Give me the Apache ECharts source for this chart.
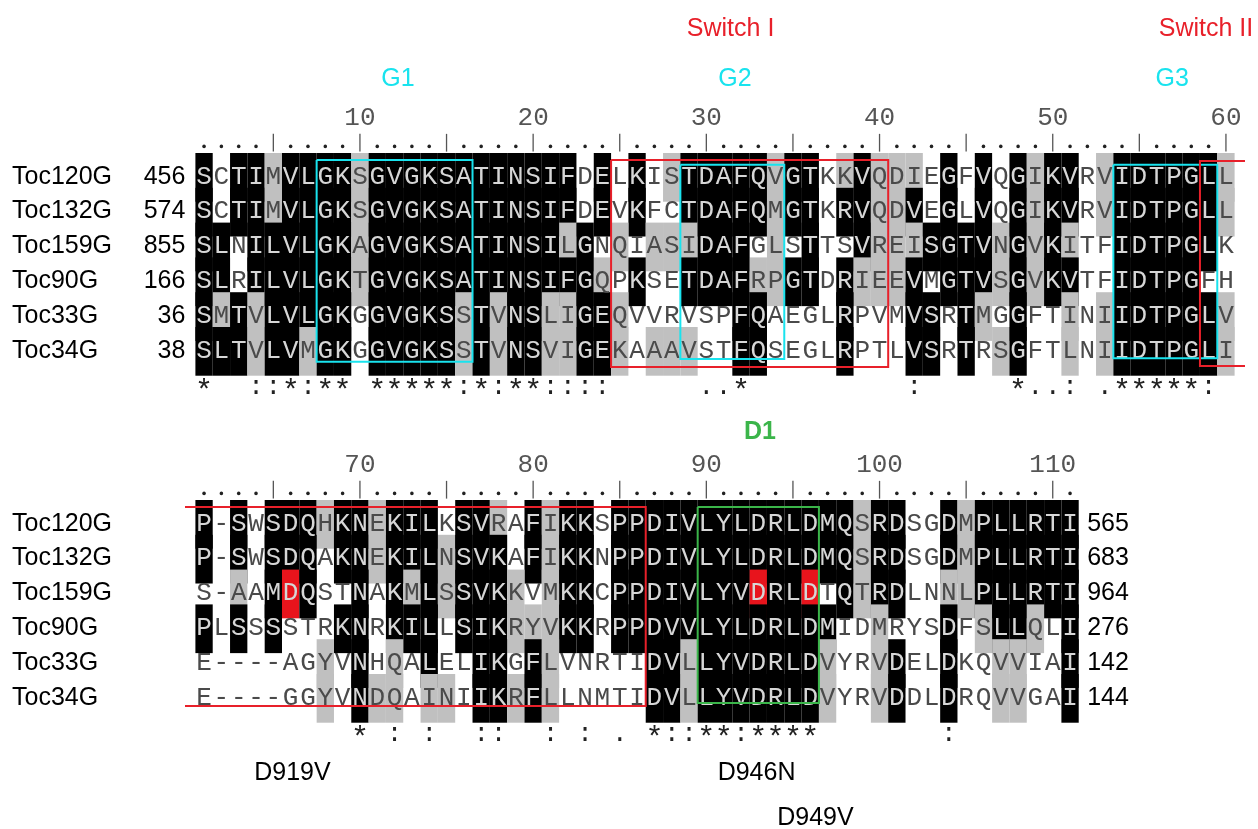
<!DOCTYPE html>
<html>
<head>
<meta charset="utf-8">
<script src="https://cdn.jsdelivr.net/npm/echarts@6/dist/echarts.min.js"></script>
<style>
html, body { margin: 0; background: #fff; }
#main { width: 1258px; height: 829px; }
</style>
</head>
<body>
<div id="main"></div>
<script>
// sequence names and residue numbers
var names = ['Toc120G', 'Toc132G', 'Toc159G', 'Toc90G', 'Toc33G', 'Toc34G'];
var startNums = [456, 574, 855, 166, 36, 38];
var endNums = [565, 683, 964, 276, 142, 144];

// alignment, columns 1-60
var seqTop = [
  'SCTIMVLGKSGVGKSATINSIFDELKISTDAFQVGTKKVQDIEGFVQGIKVRVIDTPGLL',
  'SCTIMVLGKSGVGKSATINSIFDEVKFCTDAFQMGTKRVQDVEGLVQGIKVRVIDTPGLL',
  'SLNILVLGKAGVGKSATINSILGNQIASIDAFGLSTTSVREISGTVNGVKITFIDTPGLK',
  'SLRILVLGKTGVGKSATINSIFGQPKSETDAFRPGTDRIEEVMGTVSGVKVTFIDTPGFH',
  'SMTVLVLGKGGVGKSSTVNSLIGEQVVRVSPFQAEGLRPVMVSRTMGGFTINIIDTPGLV',
  'SLTVLVMGKGGVGKSSTVNSVIGEKAAAVSTFQSEGLRPTLVSRTRSGFTLNIIDTPGLI'
];
// alignment, columns 61-111
var seqBottom = [
  'P-SWSDQHKNEKILKSVRAFIKKSPPDIVLYLDRLDMQSRDSGDMPLLRTI',
  'P-SWSDQAKNEKILNSVKAFIKKNPPDIVLYLDRLDMQSRDSGDMPLLRTI',
  'S-AAMDQSTNAKMLSSVKKVMKKCPPDIVLYVDRLDTQTRDLNNLPLLRTI',
  'PLSSSSTRKNRKILLSIKRYVKKRPPDVVLYLDRLDMIDMRYSDFSLLQLI',
  'E----AGYVNHQALELIKGFLVNRTIDVLLYVDRLDVYRVDELDKQVVIAI',
  'E----GGYVNDQAINIIKRFLLNMTIDVLLYVDRLDVYRVDDLDRQVVGAI'
];

// shading: W none, G similar, B identical, R mutated site
var shadeTop = [
  'BWBBGBBBBG' + 'BBBBBBBBBB' + 'BBWBWBWGBB' + 'BBBGBBWGBG' + 'GGWBWBWBGB' + 'BWGBBBBBBG',
  'BWBBGBBBBG' + 'BBBBBBBBBB' + 'BBWBWBWWBB' + 'BBBGBBWBBG' + 'GBWBWBWBGB' + 'BWGBBBBBBG',
  'BBWBBBBBBG' + 'BBBBBBBBBB' + 'BGBWGWGGGB' + 'BBWGWBWWBG' + 'GGBBBBGBGB' + 'GWWBBBBBBW',
  'BBWBBBBBBG' + 'BBBBBBBBBB' + 'BBBGWBWWBB' + 'BBGGBBWBGG' + 'GBWBBBGBGB' + 'BWWBBBBBWW',
  'BGBGBBBBBW' + 'BBBBBGBGBB' + 'GGBBGWWWWW' + 'WBBWWWWBWW' + 'WBBWBGWBWW' + 'GWGBBBBBBG',
  'BBBGBBGBBW' + 'BBBBBGBGBB' + 'GGBBGWGGGW' + 'WBBWWWWBWW' + 'WBBWBWGBWW' + 'GWGBBBBBBG'
];
var shadeBottom = [
  'BWBWBBBGBB' + 'GBBBWBBGWB' + 'GBBWBBBBBB' + 'BBBBBBBBGB' + 'BWWBGBBBBB' + 'B',
  'BWBWBBBWBB' + 'GBBBGBBBWB' + 'GBBWBBBBBB' + 'BBBBBBBBGB' + 'BWWBGBBBBB' + 'B',
  'WWGWBRBWWB' + 'WBGBGBBBGW' + 'GBBWBBBBBB' + 'BBRBBRWBGB' + 'BWWGGBBBBB' + 'B',
  'BWBWBWWWBB' + 'WBBBWBBBGG' + 'GBBWBBBBBB' + 'BBBBBBBWWG' + 'WWWBWGBBGW' + 'B',
  'WWWWWWWGWB' + 'WGWBWWBBWB' + 'GWWWWWBBGB' + 'BBBBBBGWWG' + 'BWWBWWGGWW' + 'B',
  'WWWWWWWGWB' + 'GGWGGWBBGB' + 'GWWWWWBBGB' + 'BBBBBBGWWG' + 'BWWBWWGGWW' + 'B'
];

// conservation line under each block
var consTop = '*  ::*:** ' + '*****:*:**' + '::::     .' + '.*        ' + ' :     *..' + ': .*****: ';
var consBottom = '         *' + ' : :  ::  ' + ': : . *::*' + '*:****    ' + '   :      ' + ' ';

var tickTop = [10, 20, 30, 40, 50, 60];
var tickBottom = [70, 80, 90, 100, 110];

var RED = '#e8202a', CYAN = '#19e3ee', GREEN = '#3bb54a';

// motif boxes, in column units
var boxes = [
  {grid: 0, from: 8, to: 16, top: 0.2, bottom: 6.0, color: CYAN, open: ''},
  {grid: 0, from: 25, to: 40, top: 0.2, bottom: 6.15, color: RED, open: ''},
  {grid: 0, from: 29, to: 34, top: 0.34, bottom: 5.92, color: CYAN, open: ''},
  {grid: 0, from: 54, to: 59, top: 0.34, bottom: 5.9, color: CYAN, open: ''},
  {grid: 0, from: 59, to: 60.6, top: 0.23, bottom: 6.12, color: RED, open: 'right'},
  {grid: 1, from: 60.4, to: 86, top: 0.2, bottom: 5.92, color: RED, open: 'left'},
  {grid: 1, from: 90, to: 96, top: 0.2, bottom: 5.83, color: GREEN, open: ''}
];

var headers = [
  {grid: 0, text: 'Switch I', col: 31.4, row: -3.56, color: RED, bold: false},
  {grid: 0, text: 'Switch II', col: 58.85, row: -3.56, color: RED, bold: false},
  {grid: 0, text: 'G1', col: 12.2, row: -2.13, color: CYAN, bold: false},
  {grid: 0, text: 'G2', col: 31.65, row: -2.13, color: CYAN, bold: false},
  {grid: 0, text: 'G3', col: 56.9, row: -2.13, color: CYAN, bold: false},
  {grid: 1, text: 'D1', col: 93.1, row: -1.95, color: GREEN, bold: true},
  {grid: 1, text: 'D919V', col: 66.1, row: 7.84, color: '#000', bold: false},
  {grid: 1, text: 'D946N', col: 92.9, row: 7.84, color: '#000', bold: false},
  {grid: 1, text: 'D949V', col: 96.3, row: 9.14, color: '#000', bold: false}
];

var COL_W = 17.32, ROW_H = 34.8, Y_SPAN = 6.4, BOX_H = 1.4, TEXT_OFF = 0.68;
var SEQ_FONT = '26px "Liberation Mono", monospace';
var LAB_FONT = '25px "Liberation Sans", Arial, sans-serif';
var shadeFill = [null, '#c0c0c0', '#000000', '#e8141c'];

var blocks = [
  {first: 1, seqs: seqTop, shades: shadeTop, cons: consTop, ticks: tickTop, ends: false},
  {first: 61, seqs: seqBottom, shades: shadeBottom, cons: consBottom, ticks: tickBottom, ends: true}
];

var series = [];

blocks.forEach(function (blk, g) {
  var cells = [], letters = [], ruler = [], cons = [], rows = [];
  blk.seqs.forEach(function (s, r) {
    rows.push([blk.first, r]);
    for (var i = 0; i < s.length; i++) {
      var k = 'WGBR'.indexOf(blk.shades[r][i]);
      if (k > 0) cells.push([blk.first + i, r, k]);
      letters.push([blk.first + i, r, k]);
    }
  });
  var n = blk.seqs[0].length;
  for (var i = 0; i < n; i++) {
    ruler.push([blk.first + i, 0]);
    if (blk.cons[i] && blk.cons[i] !== ' ') cons.push([blk.first + i, 0]);
  }

  series.push({
    type: 'custom', xAxisIndex: g, yAxisIndex: g, z: 1, data: cells,
    renderItem: function (params, api) {
      var c = api.value(0), r = api.value(1), k = api.value(2);
      var a = api.coord([c - 0.5, r]), b = api.coord([c + 0.5, r + BOX_H]);
      return {type: 'rect', z2: r,
        shape: {x: a[0], y: a[1], width: b[0] - a[0], height: b[1] - a[1]},
        style: {fill: shadeFill[k]}};
    }
  });

  series.push({
    type: 'custom', xAxisIndex: g, yAxisIndex: g, z: 3, data: letters,
    renderItem: function (params, api) {
      var c = api.value(0), r = api.value(1), k = api.value(2);
      var p = api.coord([c, r + TEXT_OFF]);
      return {type: 'text', x: p[0], y: p[1],
        style: {text: blk.seqs[r][c - blk.first], font: SEQ_FONT,
          fill: k >= 2 ? '#d6d6d6' : '#4a4a4a', align: 'center', verticalAlign: 'middle'}};
    }
  });

  // ruler: dot per column, bar every 5, number every 10
  series.push({
    type: 'custom', xAxisIndex: g, yAxisIndex: g, z: 3, data: ruler,
    renderItem: function (params, api) {
      var c = api.value(0);
      var children = [];
      if (c % 5 === 0) {
        var a = api.coord([c, -0.55]), b = api.coord([c, -0.04]);
        children.push({type: 'line', shape: {x1: a[0], y1: a[1], x2: b[0], y2: b[1]},
          style: {stroke: '#555', lineWidth: 1.3}});
        if (blk.ticks.indexOf(c) >= 0) {
          var t = api.coord([c, -1.0]);
          children.push({type: 'text', x: t[0], y: t[1],
            style: {text: String(c), font: SEQ_FONT, fill: '#555', align: 'center', verticalAlign: 'middle'}});
        }
      } else {
        var d = api.coord([c, -0.19]);
        children.push({type: 'circle', shape: {cx: d[0], cy: d[1], r: 1.8}, style: {fill: '#222'}});
      }
      return {type: 'group', children: children};
    }
  });

  series.push({
    type: 'custom', xAxisIndex: g, yAxisIndex: g, z: 3, data: cons,
    renderItem: function (params, api) {
      var c = api.value(0);
      var ch = blk.cons[c - blk.first];
      var p = api.coord([c, ch === '*' ? 6.86 : 6.74]);
      return {type: 'text', x: p[0], y: p[1],
        style: {text: ch, font: ch === '*' ? '30px "Liberation Mono", monospace' : SEQ_FONT,
          fill: '#222', align: 'center', verticalAlign: 'middle'}};
    }
  });

  // names on the left, residue numbers at both ends
  series.push({
    type: 'custom', xAxisIndex: g, yAxisIndex: g, z: 3, data: rows,
    renderItem: function (params, api) {
      var r = api.value(1);
      var left = api.coord([blk.first - 0.5, r + TEXT_OFF]);
      var right = api.coord([blk.first - 0.5 + n, r + TEXT_OFF]);
      var children = [{type: 'text', x: 12, y: left[1],
        style: {text: names[r], font: LAB_FONT, fill: '#000', align: 'left', verticalAlign: 'middle'}}];
      if (!blk.ends) {
        children.push({type: 'text', x: left[0] - 10, y: left[1],
          style: {text: String(startNums[r]), font: LAB_FONT, fill: '#000', align: 'right', verticalAlign: 'middle'}});
      } else {
        children.push({type: 'text', x: right[0] + 8.5, y: right[1],
          style: {text: String(endNums[r]), font: LAB_FONT, fill: '#000', align: 'left', verticalAlign: 'middle'}});
      }
      return {type: 'group', children: children};
    }
  });

  var myBoxes = boxes.filter(function (b) { return b.grid === g; });
  series.push({
    type: 'custom', xAxisIndex: g, yAxisIndex: g, z: 4,
    data: myBoxes.map(function (b) { return [b.from, b.to, b.top, b.bottom]; }),
    renderItem: function (params, api) {
      var b = myBoxes[params.dataIndex];
      var a = api.coord([api.value(0) - 0.5, api.value(2)]);
      var z = api.coord([api.value(1) + 0.5, api.value(3)]);
      var pts;
      if (b.open === 'right') pts = [[z[0], a[1]], [a[0], a[1]], [a[0], z[1]], [z[0], z[1]]];
      else if (b.open === 'left') pts = [[a[0], a[1]], [z[0], a[1]], [z[0], z[1]], [a[0], z[1]]];
      else pts = [[a[0], a[1]], [z[0], a[1]], [z[0], z[1]], [a[0], z[1]], [a[0], a[1]]];
      return {type: 'polyline', shape: {points: pts}, style: {stroke: b.color, lineWidth: 2, fill: null}};
    }
  });

  var myHeads = headers.filter(function (h) { return h.grid === g; });
  series.push({
    type: 'custom', xAxisIndex: g, yAxisIndex: g, z: 4,
    data: myHeads.map(function (h) { return [h.col, h.row]; }),
    renderItem: function (params, api) {
      var h = myHeads[params.dataIndex];
      var p = api.coord([api.value(0), api.value(1)]);
      return {type: 'text', x: p[0], y: p[1],
        style: {text: h.text, font: (h.bold ? 'bold ' : '') + LAB_FONT, fill: h.color,
          align: 'center', verticalAlign: 'middle'}};
    }
  });
});

var myChart = echarts.init(document.getElementById('main'));
var option = {
  animation: false,
  grid: [
    {left: 195.4, top: 153, width: 60 * COL_W, height: Y_SPAN * ROW_H},
    {left: 195.4, top: 500, width: 51 * COL_W, height: Y_SPAN * ROW_H}
  ],
  xAxis: [
    {type: 'value', gridIndex: 0, min: 0.5, max: 60.5, show: false},
    {type: 'value', gridIndex: 1, min: 60.5, max: 111.5, show: false}
  ],
  yAxis: [
    {type: 'value', gridIndex: 0, min: 0, max: Y_SPAN, inverse: true, show: false},
    {type: 'value', gridIndex: 1, min: 0, max: Y_SPAN, inverse: true, show: false}
  ],
  series: series
};
myChart.setOption(option);
</script>
</body>
</html>
